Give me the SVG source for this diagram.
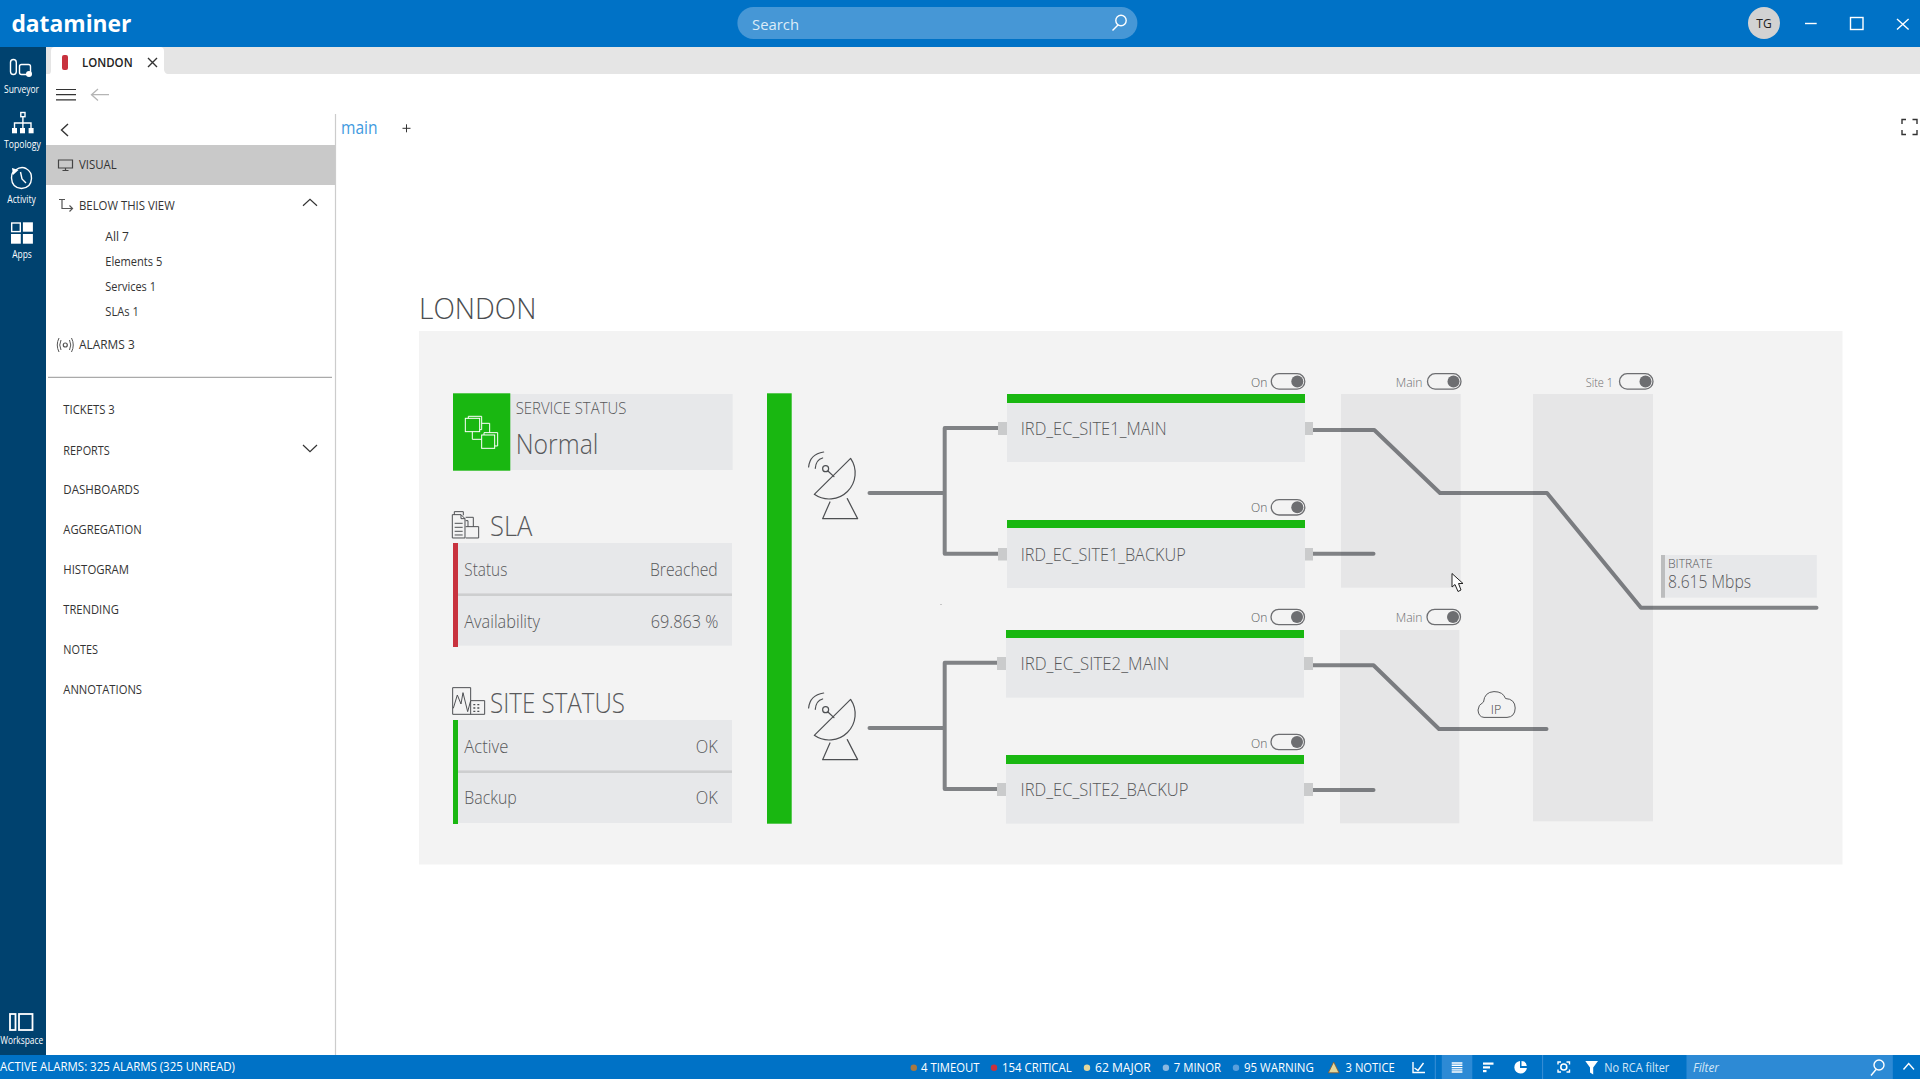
<svg xmlns="http://www.w3.org/2000/svg" width="1920" height="1080" viewBox="0 0 1920 1080">
<style>
text{font-family:"Open Sans","Noto Sans","Liberation Sans",sans-serif;fill:#58595b;font-weight:300}
.nav{font-size:12.5px;fill:#333;font-weight:400}
.rail{font-size:10px;fill:#fff;font-weight:400;text-anchor:middle}
.st{font-size:12.5px;fill:#fff;font-weight:400}
.h{font-size:27px}
.v{font-size:18.5px}
.sm{font-size:13.5px}
.mu{fill:#6d6e71}
.bar{fill:#19b711}
.tile{fill:#e7e8ea}
.port{fill:#cacbcc}
.wire{fill:none;stroke:#808285;stroke-width:4;stroke-linejoin:round;stroke-linecap:round}
.ico{fill:none;stroke:#4d4f52;stroke-width:3.6;stroke-linejoin:round;stroke-linecap:round}
.thin{fill:none;stroke:#4d4f52;stroke-width:3}
.w{fill:none;stroke:#fff;stroke-width:1.4}
.wf{fill:#fff}
.dk{fill:none;stroke:#333;stroke-width:1.2}
.tg{fill:none;stroke:#6d6e71;stroke-width:1.3}
.kn{fill:#6d6e71}
.ov{fill:#1a2030;fill-opacity:.06}
</style>
<defs>
<g id="dish">
<path class="ico" d="M1243 643L1352 535A78 78 0 0 1 1243 643Z"/>
<path class="ico" d="M1290 666L1268 716H1373L1342 656"/>
<circle class="ico" cx="1277" cy="566" r="9"/>
<path class="ico" d="M1284 573L1302 590M1226 561Q1230 522 1271 516M1246 565Q1248 539 1268 534"/>
</g>
<g id="toggle">
<rect class="tg" x="0" y="0" width="33.5" height="15.4" rx="7.7"/>
<circle class="kn" cx="26" cy="7.7" r="6"/>
</g>
</defs>
<rect width="1920" height="1080" fill="#fff"/>

<g id="top-bar">
<rect width="1920" height="47" fill="#0072c6"/>
<text x="11.4" y="31.7" font-size="24" style="font-weight:700;fill:#fff" textLength="120" lengthAdjust="spacingAndGlyphs">dataminer</text>
<rect x="737.4" y="7" width="400" height="32" rx="16" fill="#4697d6"/>
<text x="752" y="29.6" font-size="15" style="fill:#dcecf8;font-weight:400" textLength="47" lengthAdjust="spacingAndGlyphs">Search</text>
<circle class="w" cx="1121" cy="20.5" r="5.2"/><path class="w" d="M1118 25L1112.5 30.5"/>
<circle cx="1764" cy="23" r="16" fill="#d2d2d2"/>
<text x="1764" y="27.5" font-size="12" text-anchor="middle" style="fill:#222;font-weight:400">TG</text>
<path class="w" d="M1805 23.5H1816.7"/><rect class="w" x="1850.5" y="17.5" width="12.5" height="12"/><path class="w" d="M1897 19L1908.6 29.5M1908.6 19L1897 29.5"/>
</g>

<g id="rail">
<rect y="47" width="46" height="1008" fill="#00426f"/>
<rect class="w" x="10.5" y="59.5" width="5.8" height="15" rx="2.9"/><rect class="w" x="19.5" y="64.5" width="11" height="10" rx="2"/><circle class="wf" cx="29" cy="74" r="3"/>
<text class="rail" x="21.5" y="93.2" textLength="35" lengthAdjust="spacingAndGlyphs">Surveyor</text>
<rect class="w" x="20.8" y="112.5" width="4.2" height="4.2"/><path class="w" d="M22.9 117V123M14.5 128V123H31V128M22.9 123V128"/><rect class="wf" x="12" y="128" width="5" height="5.3"/><rect class="wf" x="20" y="128" width="5" height="5.3"/><rect class="wf" x="28.6" y="128" width="5" height="5.3"/>
<text class="rail" x="22.4" y="147.7" textLength="36.7" lengthAdjust="spacingAndGlyphs">Topology</text>
<path class="w" d="M15.5 170Q21 166 26 168.5Q32 172 31.5 178.5Q31 188 21.5 188.5Q12 188 11.5 178Q11.5 174 13 172"/><path class="wf" d="M12 168L18.5 170L13 175Z"/><path class="w" d="M20.5 172L22 179L26 183"/>
<text class="rail" x="21.6" y="203.3" textLength="28.6" lengthAdjust="spacingAndGlyphs">Activity</text>
<rect class="w" x="11.7" y="223" width="8.6" height="8.6"/><rect class="wf" x="22.9" y="222.3" width="10" height="9.4"/><rect class="wf" x="11" y="234" width="9.8" height="9.7"/><rect class="wf" x="22.9" y="234" width="10" height="9.7"/>
<text class="rail" x="22" y="257.7" textLength="19.6" lengthAdjust="spacingAndGlyphs">Apps</text>
<rect class="w" x="10" y="1014" width="5.5" height="16" style="stroke-width:1.8"/><rect class="w" x="19" y="1014" width="13.5" height="16" style="stroke-width:1.8"/>
<text class="rail" x="21.7" y="1044.2" textLength="43" lengthAdjust="spacingAndGlyphs">Workspace</text>
</g>

<g id="tabs">
<rect x="46" y="47" width="1874" height="27" fill="#e5e5e5"/>
<path d="M49 74Q51 74 51 70V51Q51 47 55 47H160Q164 47 164 51V70Q165 74 168 74Z" fill="#fff"/>
<rect x="62" y="55" width="6" height="15" rx="2" fill="#c8323e"/>
<text x="82" y="67.3" font-size="13" style="fill:#222;font-weight:600" textLength="50.6" lengthAdjust="spacingAndGlyphs">LONDON</text>
<path class="dk" d="M148 58L157 67M157 58L148 67" style="stroke-width:1.4"/>
<path class="dk" d="M56 89.5H76M56 94.7H76M56 99.8H76"/>
<path d="M109 94.7H91.5M98 89L91.5 94.7L98 100.4" fill="none" stroke="#b5b5b5" stroke-width="1.3"/>
<path d="M335.5 114V1055" stroke="#ccc" stroke-width="1.2"/>
<text x="341" y="134" font-size="18.5" style="fill:#3f9ae0;font-weight:400" textLength="36.6" lengthAdjust="spacingAndGlyphs">main</text>
<path class="dk" d="M402.5 128.3H410.5M406.5 124.3V132.3" style="stroke-width:1"/>
<path class="dk" d="M1902 124V119.5H1906M1912.5 119.5H1917V124M1902 130V134.5H1906M1912.5 134.5H1917V130" style="stroke-width:1.4"/>
</g>

<g id="side-menu">
<path d="M68 124L61.5 130L68 136" fill="none" stroke="#333" stroke-width="1.4"/>
<rect x="46" y="145" width="289" height="40" fill="#c9c9c9"/>
<path class="dk" d="M58.5 160H72.5V168H58.5ZM65.5 168V170.5M62.5 170.5H68.5" style="stroke:#444"/>
<text class="nav" x="79" y="169" textLength="37.7" lengthAdjust="spacingAndGlyphs">VISUAL</text>
<path class="dk" d="M59 199.5H65M62 199.5V208.5H72.5M69.5 205.5L72.5 208.5L69.5 211.5" style="stroke:#555"/>
<text class="nav" x="79" y="210" textLength="95.7" lengthAdjust="spacingAndGlyphs">BELOW THIS VIEW</text>
<path class="dk" d="M303 205.7L310 199.3L317 205.7"/>
<text class="nav" x="105.3" y="241" textLength="23.7" lengthAdjust="spacingAndGlyphs">All 7</text>
<text class="nav" x="105.3" y="266" textLength="57" lengthAdjust="spacingAndGlyphs">Elements 5</text>
<text class="nav" x="105.3" y="291" textLength="50.6" lengthAdjust="spacingAndGlyphs">Services 1</text>
<text class="nav" x="105.3" y="316" textLength="33.5" lengthAdjust="spacingAndGlyphs">SLAs 1</text>
<circle class="dk" cx="65.3" cy="345" r="2" style="stroke:#555"/><path class="dk" d="M61 340Q58.5 345 61 350M69.5 340Q72 345 69.5 350M59 338Q55.5 345 59 352M71.5 338Q75 345 71.5 352" style="stroke:#555;stroke-width:1"/>
<text class="nav" x="79" y="349" textLength="55.7" lengthAdjust="spacingAndGlyphs">ALARMS 3</text>
<path d="M48 377.4H332" stroke="#aaa" stroke-width="1.3"/>
<text class="nav" x="63.3" y="414" textLength="51.4" lengthAdjust="spacingAndGlyphs">TICKETS 3</text>
<text class="nav" x="63.3" y="455" textLength="46.5" lengthAdjust="spacingAndGlyphs">REPORTS</text>
<path class="dk" d="M303 445L310 451.7L317 445"/>
<text class="nav" x="63.3" y="494" textLength="75.9" lengthAdjust="spacingAndGlyphs">DASHBOARDS</text>
<text class="nav" x="63.3" y="534" textLength="78.3" lengthAdjust="spacingAndGlyphs">AGGREGATION</text>
<text class="nav" x="63.3" y="574" textLength="65.7" lengthAdjust="spacingAndGlyphs">HISTOGRAM</text>
<text class="nav" x="63.3" y="614" textLength="55.5" lengthAdjust="spacingAndGlyphs">TRENDING</text>
<text class="nav" x="63.3" y="654" textLength="34.7" lengthAdjust="spacingAndGlyphs">NOTES</text>
<text class="nav" x="63.3" y="694" textLength="78.7" lengthAdjust="spacingAndGlyphs">ANNOTATIONS</text>
</g>

<text id="title" x="419" y="319" font-size="30" style="fill:#4b4d50" textLength="117.5" lengthAdjust="spacingAndGlyphs">LONDON</text>
<rect id="canvas" x="419" y="331" width="1423.5" height="533.5" fill="#f3f3f3"/>

<g id="service-status">
<rect class="tile" x="510" y="394" width="222.7" height="76"/>
<rect class="bar" x="453" y="393.3" width="57.3" height="77.4"/>
<g transform="translate(400 280) scale(.3333)"><g style="fill:none;stroke:#fff;stroke-width:3"><rect x="196" y="415" width="43" height="40"/><path d="M205 415V409H245V449H239M245 430H269V458M217 455V478H245"/><rect x="245" y="465" width="39" height="40"/><path d="M252 465V458H293V498H284"/></g></g>
<text x="515.7" y="414" font-size="15.5" textLength="110.7" lengthAdjust="spacingAndGlyphs">SERVICE STATUS</text>
<text x="515.7" y="454" font-size="27.5" textLength="82.7" lengthAdjust="spacingAndGlyphs">Normal</text>
</g>

<g id="sla">
<g transform="translate(400 280) scale(.3333)"><g class="thin"><path d="M157 704H183L195 716V774H157ZM183 704V716H195M163 704V695H190V706M197 712H220V740M197 740H236V774H197M204 740V722H197"/><path d="M164 730H188M164 742H188M164 754H188M164 765H188"/></g></g>
<text class="h" x="490" y="536.3" textLength="42.4" lengthAdjust="spacingAndGlyphs">SLA</text>
<rect class="tile" x="458" y="543" width="274" height="102.7"/>
<rect x="453" y="543" width="5" height="104" fill="#c8323e"/>
<rect x="458" y="593.4" width="274" height="2.6" fill="#cdcecf"/>
<text class="v" x="464.3" y="576" textLength="43" lengthAdjust="spacingAndGlyphs">Status</text>
<text class="v" x="650" y="576" textLength="67.7" lengthAdjust="spacingAndGlyphs">Breached</text>
<text class="v" x="464.3" y="628.3" textLength="75.7" lengthAdjust="spacingAndGlyphs">Availability</text>
<text class="v" x="650.7" y="628.3" textLength="67.7" lengthAdjust="spacingAndGlyphs">69.863 %</text>
</g>

<g id="site-status">
<g transform="translate(400 580) scale(.3333)"><g class="thin"><path d="M212 362V323H158V403H254V362H212V403M160 385L172 345L183 372L189 338L203 395L212 362"/><path d="M220 374H226M232 374H238M220 384H226M232 384H238M220 394H226M232 394H238" style="stroke-width:4"/></g></g>
<text class="h" x="490" y="713" textLength="135" lengthAdjust="spacingAndGlyphs">SITE STATUS</text>
<rect class="tile" x="458" y="720" width="274" height="103"/>
<rect class="bar" x="453" y="720" width="5" height="104"/>
<rect x="458" y="770.4" width="274" height="2.6" fill="#cdcecf"/>
<text class="v" x="464.3" y="753.3" textLength="44" lengthAdjust="spacingAndGlyphs">Active</text>
<text class="v" x="695.7" y="753.3" textLength="22" lengthAdjust="spacingAndGlyphs">OK</text>
<text class="v" x="464.3" y="804" textLength="52.4" lengthAdjust="spacingAndGlyphs">Backup</text>
<text class="v" x="695.7" y="804" textLength="22" lengthAdjust="spacingAndGlyphs">OK</text>
</g>

<rect id="status-bar" class="bar" x="767" y="393.3" width="24.7" height="430.4"/>

<g id="connectors">
<path class="wire" d="M869.5 493H944.7M998 428H944.7V553.7H998"/>
<path class="wire" d="M869.5 728H944.7M998 662.7H944.7V789H998"/>
<path class="wire" d="M1313 430H1374.3L1440 493H1547L1641 607.7H1816.5"/>
<path class="wire" d="M1313 553.7H1373.5"/>
<path class="wire" d="M1313 665.3H1373.5L1439 729H1546.5"/>
<path class="wire" d="M1313 790H1373.5"/>
</g>

<g id="dish-1"><g transform="translate(400 280) scale(.3333)"><use href="#dish"/></g></g>
<g id="dish-2"><g transform="translate(400 521) scale(.3333)"><use href="#dish"/></g></g>

<g id="ird-site1-main">
<rect class="tile" x="1007" y="403" width="298" height="59"/><rect class="bar" x="1007" y="394" width="298" height="9"/>
<rect class="port" x="998" y="422" width="9" height="13"/><rect class="port" x="1305" y="422" width="8" height="13"/>
<text class="v" x="1020.7" y="435" textLength="146" lengthAdjust="spacingAndGlyphs">IRD_EC_SITE1_MAIN</text>
<text class="sm" x="1251" y="386.7" textLength="16.3" lengthAdjust="spacingAndGlyphs">On</text><use href="#toggle" x="1271.3" y="373.7"/>
</g>
<g id="ird-site1-backup">
<rect class="tile" x="1007" y="528" width="298" height="60"/><rect class="bar" x="1007" y="520" width="298" height="8"/>
<rect class="port" x="998" y="548" width="9" height="12.5"/><rect class="port" x="1305" y="548" width="8" height="12.5"/>
<text class="v" x="1020.7" y="560.7" textLength="165" lengthAdjust="spacingAndGlyphs">IRD_EC_SITE1_BACKUP</text>
<text class="sm" x="1251" y="512" textLength="16.3" lengthAdjust="spacingAndGlyphs">On</text><use href="#toggle" x="1271.3" y="499.6"/>
</g>
<g id="ird-site2-main">
<rect class="tile" x="1006" y="638" width="298" height="59.7"/><rect class="bar" x="1006" y="630" width="298" height="8"/>
<rect class="port" x="997" y="657" width="9" height="13"/><rect class="port" x="1304" y="657" width="9" height="13"/>
<text class="v" x="1020.5" y="670" textLength="148.6" lengthAdjust="spacingAndGlyphs">IRD_EC_SITE2_MAIN</text>
<text class="sm" x="1251" y="622" textLength="16.3" lengthAdjust="spacingAndGlyphs">On</text><use href="#toggle" x="1271" y="609.3"/>
</g>
<g id="ird-site2-backup">
<rect class="tile" x="1006" y="764" width="298" height="59.7"/><rect class="bar" x="1006" y="755" width="298" height="9"/>
<rect class="port" x="997" y="783" width="9" height="13"/><rect class="port" x="1304" y="783" width="9" height="13"/>
<text class="v" x="1020.5" y="795.7" textLength="168" lengthAdjust="spacingAndGlyphs">IRD_EC_SITE2_BACKUP</text>
<text class="sm" x="1251" y="747.7" textLength="16.3" lengthAdjust="spacingAndGlyphs">On</text><use href="#toggle" x="1271" y="734.3"/>
</g>

<g id="switch-a">
<rect class="ov" x="1341" y="394" width="119.7" height="193.7"/>
<text class="sm mu" x="1395.7" y="386.7" textLength="26.8" lengthAdjust="spacingAndGlyphs">Main</text><use href="#toggle" x="1427.5" y="373.7"/>
</g>
<g id="switch-b">
<rect class="ov" x="1340" y="630" width="119.3" height="193.3"/>
<text class="sm mu" x="1395.7" y="622" textLength="26.8" lengthAdjust="spacingAndGlyphs">Main</text><use href="#toggle" x="1427" y="609.3"/>
</g>
<g id="switch-c">
<rect class="ov" x="1533" y="394" width="120" height="427.3"/>
<text class="sm mu" x="1585.7" y="386.7" textLength="27.3" lengthAdjust="spacingAndGlyphs">Site 1</text><use href="#toggle" x="1619.5" y="373.7"/>
</g>

<g id="ip-cloud">
<path d="M1484 717.4H1507Q1515 717 1515.2 708Q1515 699 1505.5 698.5Q1503 691.6 1494 691.6Q1484.5 692 1483.5 702Q1478 705 1478 710Q1478.5 717 1484 717.4Z" fill="none" stroke="#58595b" stroke-width="1"/>
<text x="1496" y="714" font-size="12.5" text-anchor="middle" style="fill:#444">IP</text>
</g>

<g id="bitrate">
<rect class="tile" x="1661" y="555" width="155.8" height="42.7"/>
<rect x="1661" y="555" width="4" height="42.7" fill="#bcbdbe"/>
<text x="1668" y="567.7" font-size="12" textLength="44.6" lengthAdjust="spacingAndGlyphs">BITRATE</text>
<text x="1668" y="587.7" font-size="18" textLength="83" lengthAdjust="spacingAndGlyphs">8.615 Mbps</text>
</g>

<path id="cursor" d="M1452 573.5V587L1455 584.5L1458 591.5L1461 590L1458.5 583.5H1463Z" fill="#fff" stroke="#222" stroke-width="1"/>
<rect id="speck" x="940.5" y="604" width="1" height="1" fill="#999"/>

<g id="footer">
<rect y="1055" width="1920" height="24" fill="#0072c6"/>
<text class="st" x="0" y="1071.4" textLength="235" lengthAdjust="spacingAndGlyphs">ACTIVE ALARMS: 325 ALARMS (325 UNREAD)</text>
<circle cx="913.8" cy="1067.7" r="3.2" fill="#a8783f"/><text class="st" x="921" y="1071.7" textLength="58.5" lengthAdjust="spacingAndGlyphs">4 TIMEOUT</text>
<circle cx="994" cy="1067.7" r="3.2" fill="#c8323e"/><text class="st" x="1002" y="1071.7" textLength="69.7" lengthAdjust="spacingAndGlyphs">154 CRITICAL</text>
<circle cx="1087" cy="1067.7" r="3.2" fill="#e3d79c"/><text class="st" x="1095" y="1071.7" textLength="55.6" lengthAdjust="spacingAndGlyphs">62 MAJOR</text>
<circle cx="1165.9" cy="1067.7" r="3.2" fill="#8ab8e0"/><text class="st" x="1173.8" y="1071.7" textLength="47.2" lengthAdjust="spacingAndGlyphs">7 MINOR</text>
<circle cx="1236" cy="1067.7" r="3.2" fill="#5a9fdc"/><text class="st" x="1244" y="1071.7" textLength="69.8" lengthAdjust="spacingAndGlyphs">95 WARNING</text>
<path d="M1333.7 1062L1339 1072.8H1328.4Z" fill="#e3d79c" stroke="#8a5a2a" stroke-width=".8"/><text class="st" x="1345.6" y="1071.7" textLength="49.1" lengthAdjust="spacingAndGlyphs">3 NOTICE</text>
<path class="w" d="M1413 1062V1072.5H1425M1414.5 1068L1418 1070.5L1423.5 1063"/>
<path d="M1435.3 1055V1079M1542.6 1055V1079" stroke="#3a8fd6" stroke-width="1"/>
<rect x="1441.8" y="1055" width="30.5" height="24" fill="#2d8ad5"/>
<path class="w" d="M1451.7 1063H1462.4M1451.7 1065.3H1462.4M1451.7 1067.6H1462.4M1451.7 1069.9H1462.4M1451.7 1072H1462.4"/>
<rect class="wf" x="1483" y="1062.5" width="10.5" height="2.2"/><rect class="wf" x="1483" y="1066.3" width="7" height="2.2"/><rect class="wf" x="1483" y="1070" width="3.5" height="2.2"/>
<path class="wf" d="M1520 1067.3V1061A6.3 6.3 0 1 0 1526.9 1068H1520ZM1521.5 1061V1066H1526.8A5.5 5.5 0 0 0 1521.5 1061Z"/>
<circle class="w" cx="1563.8" cy="1067" r="3" style="stroke-width:1.6"/><path class="w" d="M1558 1064.5V1062H1561M1566.5 1062H1569.5V1064.5M1558 1069.5V1072H1561M1566.5 1072H1569.5V1069.5"/>
<path class="wf" d="M1585.3 1061H1598L1593.2 1067.5V1074.5L1590 1072.5V1067.5Z"/>
<text class="st" x="1604.3" y="1071.7" style="fill:#d5e7f6" textLength="65" lengthAdjust="spacingAndGlyphs">No RCA filter</text>
<rect x="1686.5" y="1055" width="206.3" height="24" fill="#2d8ad5"/>
<text x="1693" y="1071.7" font-size="12.5" style="fill:#d5e7f6;font-style:italic;font-weight:400" textLength="26" lengthAdjust="spacingAndGlyphs">Filter</text>
<circle class="w" cx="1879" cy="1065" r="5"/><path class="w" d="M1876 1069.5L1871 1075.5"/>
<path class="w" d="M1903.5 1069.5L1908.7 1063.5L1914 1069.5"/>
</g>
</svg>
